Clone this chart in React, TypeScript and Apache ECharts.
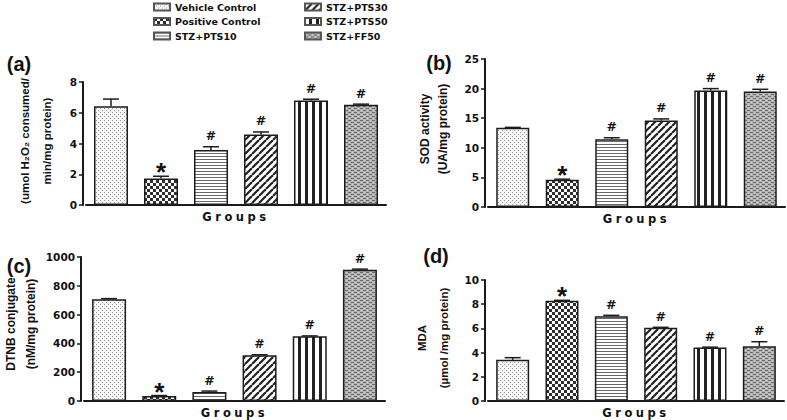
import React, { useEffect, useRef } from 'react';
import * as echarts from 'echarts';

const groups = ['Vehicle Control', 'Positive Control', 'STZ+PTS10', 'STZ+PTS30', 'STZ+PTS50', 'STZ+FF50'];

const catalaseValues = [6.42, 1.72, 3.57, 4.58, 6.8, 6.52];
const catalaseErrors = [0.47, 0.15, 0.22, 0.17, 0.08, 0.04];
const catalaseMarks = ['', '*', '#', '#', '#', '#'];

const sodValues = [13.4, 4.6, 11.45, 14.6, 19.7, 19.5];
const sodErrors = [0.05, 0.1, 0.25, 0.28, 0.3, 0.38];
const sodMarks = ['', '*', '#', '#', '#', '#'];

const dtnbValues = [707, 35, 62, 318, 450, 912];
const dtnbErrors = [4, 3, 7, 3, 2, 4];
const dtnbMarks = ['', '*', '#', '#', '#', '#'];

const mdaValues = [3.4, 8.28, 7.0, 6.05, 4.42, 4.52];
const mdaErrors = [0.18, 0.04, 0.08, 0.04, 0.03, 0.38];
const mdaMarks = ['', '*', '#', '#', '#', '#'];

const panelLabels = ['(a)', '(b)', '(c)', '(d)'];
const yMaxes = [8, 25, 1000, 10];
const yIntervals = [2, 5, 200, 2];
const yTitles = [
  '(umol H\u2082O\u2082 consumed/\nmin/mg protein)',
  'SOD activity\n(UA/mg protein)',
  'DTNB conjugate\n(nM/mg protein)',
  'MDA\n(\u00B5mol /mg protein)',
];
const xTitle = 'Groups';

const panelValues = [catalaseValues, sodValues, dtnbValues, mdaValues];
const panelErrors = [catalaseErrors, sodErrors, dtnbErrors, mdaErrors];
const panelMarks = [catalaseMarks, sodMarks, dtnbMarks, mdaMarks];

// layout (pixels)
const gridBoxes = [
  { left: 86, top: 82, width: 300, height: 123 },
  { left: 488, top: 59, width: 297, height: 148 },
  { left: 84, top: 257, width: 301, height: 145 },
  { left: 488, top: 280, width: 296, height: 122 },
];
const barWidths = [34, 33, 34, 33];
const labelPos = [[19, 64], [439, 63], [19, 266], [436, 256]];
const yTitlePos = [[35.5, 141], [434, 129], [21, 324], [432.5, 338]];
const yTitleLineHeights = [22, 18, 20, 22];
const yTitleFontSizes = [11.5, 12, 12, 11.5];

function tile(w: number, h: number, draw: (ctx: CanvasRenderingContext2D) => void) {
  const c = document.createElement('canvas');
  c.width = w;
  c.height = h;
  const ctx = c.getContext('2d') as CanvasRenderingContext2D;
  draw(ctx);
  return { image: c, repeat: 'repeat', imageWidth: w, imageHeight: h } as any;
}

function makePatterns() {
  const dots = tile(4, 4, (ctx) => {
    ctx.fillStyle = '#f6f6f6';
    ctx.fillRect(0, 0, 4, 4);
    ctx.fillStyle = '#9a9a9a';
    ctx.fillRect(0, 0, 1, 1);
    ctx.fillRect(2, 2, 1, 1);
  });
  const checker = tile(6, 6, (ctx) => {
    ctx.fillStyle = '#ffffff';
    ctx.fillRect(0, 0, 6, 6);
    ctx.fillStyle = '#2e2e2e';
    ctx.fillRect(0, 0, 3, 3);
    ctx.fillRect(3, 3, 3, 3);
  });
  const hstripes = tile(4, 3, (ctx) => {
    ctx.fillStyle = '#ffffff';
    ctx.fillRect(0, 0, 4, 3);
    ctx.fillStyle = '#6a6a6a';
    ctx.fillRect(0, 0, 4, 1);
  });
  const diag = tile(7, 7, (ctx) => {
    ctx.fillStyle = '#ffffff';
    ctx.fillRect(0, 0, 7, 7);
    ctx.strokeStyle = '#222222';
    ctx.lineWidth = 2.2;
    for (const x0 of [-7, 0, 7]) {
      ctx.beginPath();
      ctx.moveTo(x0, 7);
      ctx.lineTo(x0 + 7, 0);
      ctx.stroke();
    }
  });
  const vstripes = tile(7, 4, (ctx) => {
    ctx.fillStyle = '#ffffff';
    ctx.fillRect(0, 0, 7, 4);
    ctx.fillStyle = '#222222';
    ctx.fillRect(4, 0, 3, 4);
  });
  const brick = tile(6, 4, (ctx) => {
    ctx.fillStyle = '#b4b4b4';
    ctx.fillRect(0, 0, 6, 4);
    ctx.fillStyle = '#6a6a6a';
    ctx.fillRect(0, 0, 3, 1);
    ctx.fillRect(3, 2, 3, 1);
    ctx.fillStyle = '#d6d6d6';
    ctx.fillRect(4, 0, 1, 1);
    ctx.fillRect(1, 2, 1, 1);
  });
  return [dots, checker, hstripes, diag, vstripes, brick];
}

const tickFont = { fontFamily: 'DejaVu Sans', fontWeight: 'bold' as const, fontSize: 10.5, color: '#111' };

export default function App() {
  const ref = useRef<HTMLDivElement>(null);

  useEffect(() => {
    document.body.style.margin = '0';
    if (!ref.current) return;
    const chart = echarts.init(ref.current, undefined, { renderer: 'svg' });
    const patterns = makePatterns();

    const grid: any[] = gridBoxes.map((b) => ({ ...b }));
    grid.push({ left: 0, top: 0, width: 1, height: 1, show: false });

    const xAxis: any[] = gridBoxes.map((_, g) => ({
      type: 'category',
      gridIndex: g,
      data: groups,
      axisLine: { show: true, lineStyle: { color: '#1a1a1a', width: 2 } },
      axisTick: { show: false },
      axisLabel: { show: false },
      name: xTitle,
      nameLocation: 'middle',
      nameGap: 6,
      nameTextStyle: {
        fontFamily: "'DejaVu Sans', GrpX",
        fontWeight: 'bold',
        fontSize: 11.5,
        color: '#111',
        verticalAlign: 'top',
      },
    }));
    xAxis.push({ type: 'category', gridIndex: 4, show: false, data: [] });

    const yAxis: any[] = gridBoxes.map((_, g) => ({
      type: 'value',
      gridIndex: g,
      min: 0,
      max: yMaxes[g],
      interval: yIntervals[g],
      offset: 3,
      axisLine: { show: true, lineStyle: { color: '#1a1a1a', width: 2 } },
      axisTick: { show: true, length: 4, lineStyle: { color: '#1a1a1a', width: 1.5 } },
      axisLabel: { margin: 6, formatter: (v: number) => String(v), ...tickFont },
      splitLine: { show: false },
    }));
    yAxis.push({ type: 'value', gridIndex: 4, show: false });

    const series: any[] = [];
    gridBoxes.forEach((_, g) => {
      const vals = panelValues[g];
      const errs = panelErrors[g];
      const marks = panelMarks[g];
      series.push({
        type: 'bar',
        name: 'panel' + g,
        xAxisIndex: g,
        yAxisIndex: g,
        barWidth: barWidths[g],
        silent: true,
        itemStyle: { borderColor: '#1c1c1c', borderWidth: 1.5 },
        data: vals.map((v, i) => ({ value: v, itemStyle: { color: patterns[i] } })),
      });
      series.push({
        type: 'custom',
        name: 'err' + g,
        xAxisIndex: g,
        yAxisIndex: g,
        silent: true,
        z: 5,
        encode: { x: 0, y: 1 },
        data: vals.map((v, i) => [i, v, errs[i]]),
        renderItem: (params: any, api: any) => {
          const i = api.value(0);
          const v = api.value(1);
          const e = api.value(2);
          const top = api.coord([i, v]);
          const et = api.coord([i, v + e]);
          const mk = marks[params.dataIndex];
          const children: any[] = [
            { type: 'line', shape: { x1: top[0], y1: top[1], x2: top[0], y2: et[1] }, style: { stroke: '#1c1c1c', lineWidth: 1.5 } },
            { type: 'line', shape: { x1: top[0] - 8, y1: et[1], x2: top[0] + 8, y2: et[1] }, style: { stroke: '#1c1c1c', lineWidth: 1.5 } },
          ];
          if (mk === '*') {
            children.push({
              type: 'text',
              x: top[0],
              y: et[1] - 4,
              style: { text: '*', font: 'bold 26px "Liberation Sans", Arial, sans-serif', fill: '#111', align: 'center', verticalAlign: 'middle' },
            });
          } else if (mk) {
            children.push({
              type: 'text',
              x: top[0],
              y: et[1] - 11,
              style: { text: mk, font: 'bold 12.5px "DejaVu Sans", sans-serif', fill: '#111', align: 'center', verticalAlign: 'middle' },
            });
          }
          return { type: 'group', children };
        },
      });
    });

    groups.forEach((name, i) => {
      series.push({
        type: 'bar',
        name,
        xAxisIndex: 4,
        yAxisIndex: 4,
        data: [],
        itemStyle: { color: patterns[i], borderColor: '#555', borderWidth: 1 },
      });
    });

    const legendCommon = {
      orient: 'vertical',
      top: 1,
      itemWidth: 16,
      itemHeight: 7,
      itemGap: 2.5,
      icon: 'rect',
      selectedMode: false,
      padding: 0,
      textStyle: { fontFamily: 'DejaVu Sans', fontWeight: 'bold', fontSize: 9.5, color: '#111', lineHeight: 12 },
    };

    const graphic: any[] = [];
    panelLabels.forEach((t, g) => {
      graphic.push({
        type: 'text',
        x: labelPos[g][0],
        y: labelPos[g][1],
        style: {
          text: t,
          font: 'bold 20px "Liberation Sans", Arial, sans-serif',
          fill: '#111',
          textAlign: 'center',
          textVerticalAlign: 'middle',
          align: 'center',
          verticalAlign: 'middle',
        },
      });
    });
    yTitles.forEach((t, g) => {
      graphic.push({
        type: 'text',
        x: yTitlePos[g][0],
        y: yTitlePos[g][1],
        rotation: Math.PI / 2,
        style: {
          text: t,
          font: 'bold ' + yTitleFontSizes[g] + 'px "Liberation Sans", Arial, sans-serif',
          lineHeight: yTitleLineHeights[g],
          fill: '#111',
          textAlign: 'center',
          textVerticalAlign: 'middle',
          align: 'center',
          verticalAlign: 'middle',
        },
      });
    });

    chart.setOption({
      animation: false,
      backgroundColor: '#ffffff',
      grid,
      xAxis,
      yAxis,
      series,
      legend: [
        { ...legendCommon, left: 153, data: groups.slice(0, 3) },
        { ...legendCommon, left: 304, data: groups.slice(3) },
      ],
      graphic,
    });

    return () => chart.dispose();
  }, []);

  return (
    <>
      <style>{'text[style*="GrpX"]{letter-spacing:3.5px}'}</style>
      <div ref={ref} style={{ width: 787, height: 420 }} />
    </>
  );
}
